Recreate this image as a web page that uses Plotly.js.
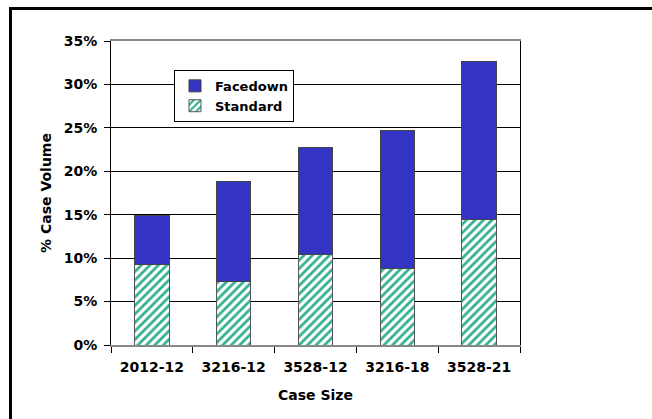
<!DOCTYPE html>
<html>
<head>
<meta charset="utf-8">
<script src="https://cdn.plot.ly/plotly-3.0.1.min.js"></script>
<style>
  html, body { margin: 0; padding: 0; background: #fff; }
  #wrap { position: relative; width: 652px; height: 419px; overflow: hidden; }
  #chart { width: 652px; height: 419px; }
  #frame { position: absolute; left: 9px; top: 7px; width: 660px; height: 430px;
           border-left: 3px solid #000; border-top: 3px solid #000; pointer-events: none; }
</style>
</head>
<body>
<div id="wrap">
  <div id="chart"></div>
  <div id="frame"></div>
</div>
<script>
const categories = ['2012-12', '3216-12', '3528-12', '3216-18', '3528-21'];
const standard = [9.3, 7.3, 10.4, 8.8, 14.4];
const facedown = [5.6, 11.5, 12.35, 15.9, 18.2];
const yTickVals = [0, 5, 10, 15, 20, 25, 30, 35];
const yTickText = yTickVals.map(v => v + '%');

const fam = 'DejaVu Sans, Arial, sans-serif';
const boldFont = { family: fam, size: 14, color: '#000', weight: 'bold' };
const legendFont = { family: fam, size: 13, color: '#000', weight: 'bold' };

const traces = [
  {
    type: 'bar', name: 'Standard', x: categories, y: standard,
    marker: {
      color: '#ffffff',
      line: { color: '#555555', width: 1 },
      pattern: { shape: '/', fgcolor: '#2fb08f', bgcolor: '#ffffff', size: 6, solidity: 0.45 }
    },
    hoverinfo: 'x+y'
  },
  {
    type: 'bar', name: 'Facedown', x: categories, y: facedown,
    marker: { color: '#3333c4', line: { color: '#444444', width: 1 } },
    hoverinfo: 'x+y'
  }
];

const layout = {
  width: 652, height: 419,
  margin: { l: 111, r: 132, t: 41, b: 74 },
  paper_bgcolor: '#ffffff', plot_bgcolor: '#ffffff',
  barmode: 'stack', bargap: 0.58,
  font: { family: fam, size: 13, color: '#000' },
  showlegend: true,
  legend: {
    x: 0.154, y: 0.905, xanchor: 'left', yanchor: 'top',
    bgcolor: '#ffffff', bordercolor: '#000', borderwidth: 1,
    traceorder: 'reversed',
    font: legendFont,
    itemwidth: 30, tracegroupgap: 0
  },
  xaxis: {
    type: 'category',
    tickson: 'boundaries', ticks: 'outside', ticklen: 6, tickcolor: '#000',
    ticklabelstandoff: 8,
    showline: true, linecolor: '#888', linewidth: 2, mirror: true,
    tickfont: boldFont,
    title: { text: 'Case Size', font: boldFont, standoff: 16 },
    showgrid: false
  },
  yaxis: {
    range: [0, 35], tickmode: 'array', tickvals: yTickVals, ticktext: yTickText,
    ticks: 'outside', ticklen: 6, tickcolor: '#000',
    ticklabelstandoff: 4,
    showline: true, linecolor: '#000', linewidth: 1, mirror: true,
    showgrid: true, gridcolor: '#000', gridwidth: 1,
    zeroline: false,
    tickfont: boldFont,
    title: { text: '% Case Volume', font: boldFont, standoff: 8 }
  }
};

Plotly.newPlot('chart', traces, layout, { displayModeBar: false, staticPlot: true });
</script>
</body>
</html>
